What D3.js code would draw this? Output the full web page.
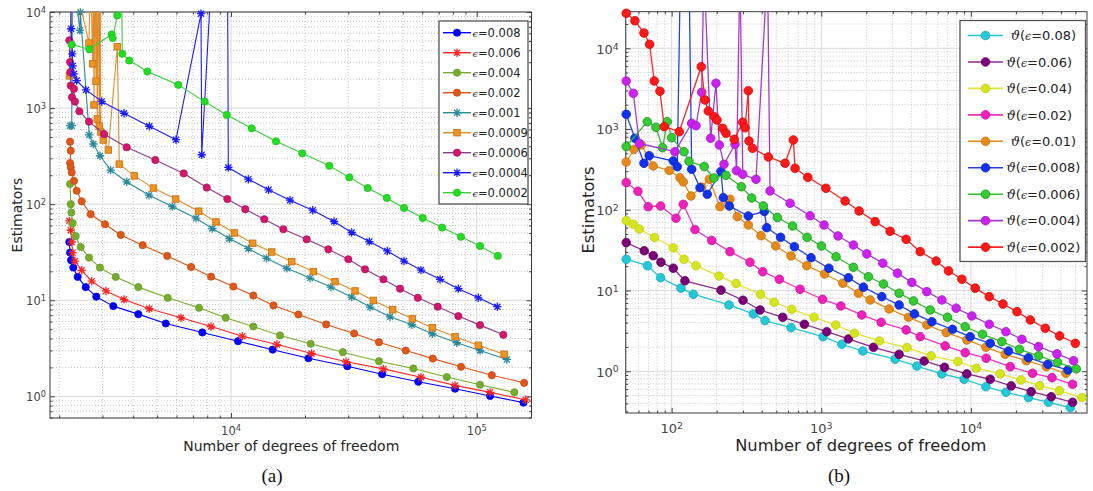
<!DOCTYPE html>
<html>
<head>
<meta charset="utf-8">
<script src="https://cdn.jsdelivr.net/npm/d3@7"></script>
<style>
  body { margin: 0; background: #fff; }
  text { font-family: "DejaVu Sans", sans-serif; }
</style>
</head>
<body>
<svg id="chart" width="1093" height="491"></svg>
<script>
// ---------------- panel (a): [degrees of freedom, estimator] ----------------
var a008 = [[2198,40.4],[2213,31.3],[2234,26.1],[2281,21.9],[2377,17.5],[2563,13.7],[2830,10.9],[3318,8.69],[4195,7.17],[5425,5.73],[7644,4.62],[10680,3.75],[14770,3.06],[20650,2.49],[29720,2.06],[41200,1.70],[57800,1.42],[81600,1.20],[113300,1.01],[154900,0.86]];
var a006 = [[2198,67.0],[2228,53.5],[2248,40.4],[2268,31.3],[2317,25.6],[2468,20.5],[2711,15.8],[3099,12.5],[3670,10.2],[4650,8.16],[6260,6.58],[8290,5.33],[11120,4.23],[15380,3.46],[21280,2.79],[29390,2.29],[41700,1.93],[59300,1.58],[81600,1.30],[113300,1.10],[158200,0.92]];
var a004 = [[2213,162],[2228,100],[2240,81.9],[2268,63.4],[2333,46.4],[2445,35.8],[2643,27.8],[2930,21.9],[3395,17.5],[4195,13.7],[5525,10.6],[7410,8.36],[9510,6.58],[12320,5.33],[15820,4.30],[21090,3.52],[28520,2.88],[40000,2.32],[55200,1.95],[75500,1.59],[103100,1.32],[142200,1.10]];
var a002 = [[2213,447],[2228,360],[2213,268],[2228,241],[2248,214],[2296,175],[2355,138],[2468,107],[2685,78.6],[3070,61.8],[3560,47.8],[4370,37.4],[5500,28.9],[6880,22.2],[8290,17.6],[10220,13.9],[12320,11.2],[14890,8.84],[18800,7.11],[24380,5.60],[31700,4.51],[40000,3.66],[51400,3.00],[66200,2.47],[86300,2.03],[115100,1.66],[155900,1.38]];
var a001 = [[2213,656],[2249,656],[2265,30000],[2428,6430],[2438,9900],[2649,525],[2754,423],[2930,319],[3238,226],[3762,171],[4637,124],[5768,94.6],[7206,71.4],[8392,55.8],[9845,43.9],[11760,34.5],[13950,27.3],[16860,21.5],[20970,17.0],[25470,13.7],[30980,10.8],[36800,8.49],[44370,6.73],[54400,5.56],[65950,4.48],[82900,3.61],[103100,3.00],[132500,2.42]];
var a0009 = [[2202,2165],[2245,30000],[2642,4750],[2680,30000],[2736,2888],[2757,30000],[2770,1078],[2796,30000],[2823,1905],[2842,30000],[2857,770],[2892,30000],[2911,651],[2936,30000],[2950,564],[3021,465],[3168,366],[3445,4345],[3510,261],[4040,197],[4830,147],[5955,113],[7390,84.5],[8690,65.3],[10330,50.2],[12250,39.2],[14640,31.8],[17660,25.2],[21630,19.9],[26500,15.6],[31970,12.5],[37950,9.96],[45500,7.96],[54700,6.42],[65950,5.17],[81600,4.17],[101500,3.40],[129200,2.74]];
var a0006 = [[2198,5080],[2213,3010],[2218,2366],[2228,1714],[2253,1297],[2296,1585],[2317,1168],[2414,927],[2642,722],[3043,537],[3762,391],[4920,288],[6420,209],[7965,149],[9660,113],[11430,88.7],[13660,69.7],[16330,54.8],[20320,43.1],[24890,33.9],[30010,26.7],[35090,21.0],[41700,16.5],[48740,13.2],[57530,10.6],[69360,8.57],[84150,6.84],[103100,5.51],[128300,4.37]];
var a0004 = [[2228,30000],[2234,6690],[2260,3673],[2268,2752],[2296,2271],[2355,1933],[2570,1546],[2977,1173],[3670,884],[4650,647],[5973,469],[7550,9600],[7600,327],[8370,30000],[9680,30000],[9750,241],[11760,182],[14210,141],[17380,110],[21500,86.5],[26250,66.0],[30980,50.7],[36550,40.8],[43260,32.6],[50580,25.6],[59300,20.6],[70900,16.5],[84150,13.2],[101500,10.6],[121300,8.57]];
var a0002 = [[2249,4590],[2649,4090],[3268,5837],[3300,5355],[3445,9220],[3584,30000],[3610,3673],[3855,3126],[4563,2400],[6102,1744],[7816,1168],[9605,848],[12140,616],[15240,451],[19500,338],[25120,251],[30300,190],[35990,147],[43030,116],[50580,91.4],[60260,71.9],[72260,57.1],[86300,45.8],[103100,36.7],[121800,28.9]];

var labelsA = ["0.008","0.006","0.004","0.002","0.001","0.0009","0.0006","0.0004","0.0002"];
var xTicksA = [1e4, 1e5];
var yTicksA = [1e0, 1e1, 1e2, 1e3, 1e4];

// ---------------- panel (b) ----------------
var b08 = [[49.7,24.4],[68.9,20.3],[84.4,14.4],[115.4,10.7],[139.5,8.99],[241.8,6.62],[351.4,5.13],[420.7,4.24],[628,3.47],[1028,2.68],[1371,2.16],[1895,1.78],[3117,1.41],[4355,1.16],[6397,0.927],[9020,0.796],[12600,0.644],[17140,0.549],[24270,0.471],[33040,0.413],[46150,0.354]];
var b06 = [[49.7,39.2],[65.6,31.1],[75.3,27.0],[84.8,22.4],[102.5,18.9],[122.7,13.2],[213.6,10.1],[299.8,7.57],[389.5,5.74],[552.6,4.66],[770.9,3.82],[1088,3.09],[1518,2.51],[2231,1.98],[3313,1.62],[4871,1.34],[6658,1.12],[9397,0.927],[13460,0.796],[18600,0.658],[25300,0.559],[34450,0.484],[47840,0.413]];
var b04 = [[49.7,73.3],[55.4,66.1],[60.7,57.8],[76.9,45.4],[102.5,33.9],[120.9,24.4],[145.4,20.3],[207.2,15.1],[269.3,12.2],[392.6,8.99],[483.4,7.15],[634.9,5.86],[895.2,4.66],[1250,3.74],[1665,2.96],[2447,2.37],[3733,1.96],[5427,1.55],[8185,1.32],[10850,1.09],[15700,0.927],[21600,0.780],[28770,0.664],[38990,0.575],[55260,0.471]];
var b02 = [[49.7,217.8],[59.5,169.4],[69.7,109.2],[84.4,111.4],[106.9,78.5],[119.6,116.9],[143.1,57.0],[185.2,41.7],[245.5,30.3],[334.0,22.4],[406.2,17.1],[524.5,13.8],[721.5,10.36],[1020,7.79],[1350,6.44],[1866,4.98],[2512,4.04],[3690,3.25],[4581,2.68],[6730,2.06],[9162,1.70],[12660,1.45],[18320,1.14],[25830,0.944],[34830,0.833],[47840,0.690]];
var b01 = [[49.7,390.8],[55.9,558],[62.8,635],[75.3,348.7],[96.4,306.7],[113.6,249.7],[119.6,220.9],[134.6,148.2],[158.7,191.6],[178.4,238.7],[210.4,109.2],[245.5,134.9],[274.7,82.1],[325.3,64.8],[395.6,47.8],[496.2,35.6],[628,26.8],[799.9,20.3],[1052,16.0],[1393,12.3],[1771,9.25],[2120,7.64],[2841,5.91],[3824,4.66],[5077,3.74],[6839,3.01],[9397,2.44],[12600,1.98],[16960,1.62],[23440,1.35],[31910,1.14],[43200,0.944]];
var b008 = [[49.7,1523],[56.8,768],[65.3,376.7],[70.8,467.7],[102.5,402],[109.0,341.9],[114.5,100000],[130.5,100000],[136.1,317.3],[154.6,187.8],[173.0,155.6],[213.6,298.1],[221.4,141.2],[242.9,111.4],[325.3,83.8],[416.1,95.3],[432.1,60.0],[534.4,45.6],[660.7,34.9],[854.3,25.5],[1124,18.9],[1518,14.4],[1912,11.0],[2539,8.39],[3313,6.62],[4197,5.13],[5485,4.11],[7535,3.31],[9893,2.68],[13460,2.22],[17840,1.78],[24270,1.47],[32730,1.22],[44570,1.04]];
var b006 = [[49.7,608],[68.7,1233],[78.5,1051],[87.0,587],[93.4,1233],[100,781],[120.9,524],[130.5,398.7],[165.0,343.7],[191.8,247.6],[230.8,267.4],[292.2,193.2],[342.8,140.0],[410.0,111.4],[508.6,80.3],[642.7,63.0],[803.5,45.6],[1002,35.6],[1256,26.2],[1639,19.4],[2065,14.8],[2602,12.05],[3313,9.25],[4130,7.43],[5345,5.74],[6973,4.66],[9162,3.56],[11960,2.87],[16110,2.33],[21140,1.87],[28330,1.55],[37950,1.29],[50620,1.07]];
var b004 = [[49.7,3936],[55.4,2772],[60.9,662],[105.2,524],[136.1,1178],[145.4,1100],[158.7,2851],[164.4,100000],[182.3,768],[197.8,3687],[208.2,634.6],[223.8,366],[265.1,647],[271.3,304.8],[286.3,100000],[298.5,275.2],[366.2,238.7],[437.2,100000],[454.4,171],[618.6,120.4],[841.5,84.5],[1044,64.8],[1295,47.4],[1639,36.6],[2016,28.4],[2578,21.8],[3228,16.4],[4031,12.6],[5077,9.68],[6397,7.64],[7972,6.03],[10150,4.84],[13260,3.82],[17140,3.09],[21930,2.49],[28330,2.02],[37600,1.64],[48550,1.35]];
var b002 = [[49.7,27120],[56.8,21960],[65.3,15470],[71.2,11210],[76.5,3936],[83.5,2941],[89.2,1069],[112.4,927],[157.7,5919],[167.1,2290],[175.7,1673],[192.7,1422],[201.0,1294],[219.4,1022],[230.8,886],[262.1,746],[298.5,1212],[309.2,1039],[325.3,2985],[328.9,711],[347.1,577.8],[442.8,450.8],[572.6,376.7],[650.7,731.8],[668.0,326.6],[812.2,252.6],[1073,184.6],[1443,128.5],[1790,96.6],[2291,71.3],[2885,54.2],[3690,43.1],[4581,30.3],[5861,23.2],[7083,17.5],[8707,13.8],[10690,10.7],[13260,8.39],[16370,6.81],[20320,5.47],[24950,4.32],[31410,3.41],[39150,2.74],[49890,2.22]];

var labelsB = [" 0.08","0.06","0.04","0.02"," 0.01","0.008","0.006","0.004","0.002"];
var xTicksB = [1e2, 1e3, 1e4];
var yTicksB = [1e0, 1e1, 1e2, 1e3, 1e4];

var svg = d3.select('#chart');

function minorVals(dom) {
  var out = [];
  var lo = Math.floor(Math.log10(dom[0])), hi = Math.ceil(Math.log10(dom[1]));
  for (var e = lo; e < hi; e++)
    for (var k = 2; k < 10; k++) {
      var v = k * Math.pow(10, e);
      if (v > dom[0] && v < dom[1]) out.push(v);
    }
  return out;
}

function powLabel(sel, v) {
  sel.append('tspan').text('10');
  sel.append('tspan').attr('dy', '-0.45em').attr('font-size', '0.72em').text(Math.round(Math.log10(v)));
}

function starPath(cx, cy, r) {
  var q = r * 0.72;
  return 'M' + (cx - r) + ',' + cy + 'H' + (cx + r) +
    'M' + cx + ',' + (cy - r) + 'V' + (cy + r) +
    'M' + (cx - q) + ',' + (cy - q) + 'L' + (cx + q) + ',' + (cy + q) +
    'M' + (cx - q) + ',' + (cy + q) + 'L' + (cx + q) + ',' + (cy - q);
}

function drawMarker(g, cx, cy, s, size) {
  if (s.shape == 'circle') {
    g.append('circle').attr('cx', cx).attr('cy', cy).attr('r', size)
      .attr('fill', s.fill).attr('stroke', s.edge || s.fill).attr('stroke-width', 0.8);
  } else if (s.shape == 'square') {
    g.append('rect').attr('x', cx - size * 0.9).attr('y', cy - size * 0.9)
      .attr('width', size * 1.8).attr('height', size * 1.8)
      .attr('fill', s.fill).attr('stroke', s.edge).attr('stroke-width', 0.9);
  } else {
    g.append('path').attr('d', starPath(cx, cy, size + 0.6))
      .attr('fill', 'none').attr('stroke', s.fill).attr('stroke-width', 1.3);
  }
}

function drawPanel(p) {
  var x = d3.scaleLog().domain(p.xDomain).range([p.left, p.right]);
  var y = d3.scaleLog().domain(p.yDomain).range([p.bottom, p.top]);
  var g = svg.append('g');

  g.append('clipPath').attr('id', p.id + 'clip')
    .append('rect').attr('x', p.left).attr('y', p.top)
    .attr('width', p.right - p.left).attr('height', p.bottom - p.top);

  // grid
  var xMinor = minorVals(p.xDomain), yMinor = minorVals(p.yDomain);
  g.selectAll('.xm').data(xMinor).enter().append('line')
    .attr('x1', d => x(d)).attr('x2', d => x(d)).attr('y1', p.top).attr('y2', p.bottom)
    .attr('stroke', '#b8b8b8').attr('stroke-width', 0.8).attr('stroke-dasharray', '1,2');
  g.selectAll('.ym').data(yMinor).enter().append('line')
    .attr('y1', d => y(d)).attr('y2', d => y(d)).attr('x1', p.left).attr('x2', p.right)
    .attr('stroke', '#b8b8b8').attr('stroke-width', 0.8).attr('stroke-dasharray', '1,2');
  g.selectAll('.xM').data(p.xTicks).enter().append('line')
    .attr('x1', d => x(d)).attr('x2', d => x(d)).attr('y1', p.top).attr('y2', p.bottom)
    .attr('stroke', '#dadada').attr('stroke-width', 1);
  g.selectAll('.yM').data(p.yTicks).enter().append('line')
    .attr('y1', d => y(d)).attr('y2', d => y(d)).attr('x1', p.left).attr('x2', p.right)
    .attr('stroke', '#dadada').attr('stroke-width', 1);

  // inward ticks on all four sides
  var axes = [
    [d3.axisBottom(x), 'translate(0,' + p.bottom + ')', xMinor, p.xTicks],
    [d3.axisTop(x), 'translate(0,' + p.top + ')', xMinor, p.xTicks],
    [d3.axisLeft(y), 'translate(' + p.left + ',0)', yMinor, p.yTicks],
    [d3.axisRight(y), 'translate(' + p.right + ',0)', yMinor, p.yTicks]
  ];
  axes.forEach(function (a) {
    var maj = a[0].tickValues(a[3]).tickSize(-5).tickSizeOuter(0).tickFormat('');
    g.append('g').attr('transform', a[1]).call(maj)
      .call(s => s.select('.domain').remove())
      .selectAll('line').attr('stroke', '#444');
    var mnr = a[0].tickValues(a[2]).tickSize(-2.5).tickSizeOuter(0).tickFormat('');
    g.append('g').attr('transform', a[1]).call(mnr)
      .call(s => s.select('.domain').remove())
      .selectAll('line').attr('stroke', '#444');
  });

  g.append('rect').attr('x', p.left).attr('y', p.top)
    .attr('width', p.right - p.left).attr('height', p.bottom - p.top)
    .attr('fill', 'none').attr('stroke', '#3a3a3a').attr('stroke-width', 1);

  // tick labels
  p.xTicks.forEach(function (v) {
    var t = g.append('text').attr('x', x(v)).attr('y', p.bottom + p.xLabY)
      .attr('text-anchor', 'middle').attr('font-size', p.tickFont).attr('fill', '#444');
    powLabel(t, v);
  });
  p.yTicks.forEach(function (v) {
    var t = g.append('text').attr('x', p.left - p.yLabX).attr('y', y(v) + p.tickFont * 0.42)
      .attr('text-anchor', 'end').attr('font-size', p.tickFont).attr('fill', '#444');
    powLabel(t, v);
  });

  // series
  var line = d3.line().x(d => x(d[0])).y(d => y(d[1]));
  p.series.forEach(function (s) {
    var sg = g.append('g');
    sg.append('path').datum(s.data).attr('d', line)
      .attr('fill', 'none').attr('stroke', s.line).attr('stroke-width', p.lw)
      .attr('stroke-linejoin', 'round')
      .attr('clip-path', 'url(#' + p.id + 'clip)');
    s.data.forEach(function (d) {
      if (d[0] < p.xDomain[0] || d[0] > p.xDomain[1] || d[1] < p.yDomain[0] || d[1] > p.yDomain[1]) return;
      drawMarker(sg, x(d[0]), y(d[1]), s, p.ms);
    });
  });

  // legend
  var L = p.legend;
  g.append('rect').attr('x', L.x0).attr('y', L.y0).attr('width', L.x1 - L.x0).attr('height', L.y1 - L.y0)
    .attr('fill', '#fff').attr('stroke', '#555').attr('stroke-width', 1.3);
  p.series.forEach(function (s, i) {
    var ly = L.first + i * L.step;
    g.append('line').attr('x1', L.lx0).attr('x2', L.lx1).attr('y1', ly).attr('y2', ly)
      .attr('stroke', s.line).attr('stroke-width', p.lw + 0.3);
    drawMarker(g, (L.lx0 + L.lx1) / 2, ly, s, p.ms);
    var t = g.append('text').attr('x', L.tx).attr('y', ly + L.font * 0.36)
      .attr('font-size', L.font).attr('fill', '#222').style('white-space', 'pre');
    if (p.theta) {
      t.append('tspan').style('font-family', '"DejaVu Serif", serif').style('font-style', 'italic')
        .text((s.label[0] == ' ' ? ' ' : '') + 'ϑ');
      t.append('tspan').text('(');
    }
    t.append('tspan').style('font-family', '"DejaVu Serif", serif').style('font-style', 'italic')
      .attr('font-size', '0.85em').text('ϵ');
    t.append('tspan').text('=' + s.label.trim() + (p.theta ? ')' : ''));
  });

  // axis titles
  g.append('text').attr('x', (p.left + p.right) / 2 + p.xTitleDx).attr('y', p.xTitleY)
    .attr('text-anchor', 'middle').attr('font-size', p.titleFont).attr('fill', '#262626')
    .text('Number of degrees of freedom');
  g.append('text').attr('transform', 'translate(' + p.yTitleX + ',' + p.yTitleY + ') rotate(-90)')
    .attr('text-anchor', 'middle').attr('font-size', p.titleFont).attr('fill', '#262626')
    .text('Estimators');
  g.append('text').attr('x', p.capX).attr('y', 482).attr('text-anchor', 'middle')
    .style('font-family', '"Liberation Serif", "DejaVu Serif", serif').attr('font-size', 19).attr('fill', '#111')
    .text(p.caption);
}

function ser(data, label, line, fill, edge, shape) {
  return { data: data, label: label, line: line, fill: fill, edge: edge, shape: shape };
}

drawPanel({
  id: 'pa', left: 50, right: 531.5, top: 12, bottom: 418,
  xDomain: [1834, 167000], yDomain: [0.595, 10000],
  xTicks: xTicksA, yTicks: yTicksA,
  tickFont: 11.5, xLabY: 17, yLabX: 4,
  lw: 1.1, ms: 3.6,
  titleFont: 14, xTitleDx: 0.5, xTitleY: 451, yTitleX: 22, yTitleY: 215,
  capX: 272, caption: '(a)',
  series: [
    ser(a008, labelsA[0], '#0000ff', '#0000ff', '#0000ee', 'circle'),
    ser(a006, labelsA[1], '#ff2424', '#ff2424', null, 'star'),
    ser(a004, labelsA[2], '#77ac30', '#77ac30', '#679c28', 'circle'),
    ser(a002, labelsA[3], '#d95319', '#dd581a', '#c84a12', 'circle'),
    ser(a001, labelsA[4], '#2a8a9a', '#2a8a9a', null, 'star'),
    ser(a0009, labelsA[5], '#e08c2c', '#ee9420', '#c8731a', 'square'),
    ser(a0006, labelsA[6], '#8c3c8c', '#d4176a', '#b0105a', 'circle'),
    ser(a0004, labelsA[7], '#1a1aff', '#1a1aff', null, 'star'),
    ser(a0002, labelsA[8], '#3dcc3d', '#22dd22', '#22bb22', 'circle')
  ],
  legend: { x0: 439, y0: 21, x1: 528, y1: 204, first: 32.7, step: 20, lx0: 443, lx1: 471, tx: 472.5, font: 11.5 }
});

drawPanel({
  id: 'pb', left: 625.7, right: 1087, top: 11.7, bottom: 413,
  xDomain: [49.3, 59700], yDomain: [0.304, 28400],
  xTicks: xTicksB, yTicks: yTicksB,
  tickFont: 13, xLabY: 20, yLabX: 7,
  lw: 1.3, ms: 4.3, theta: true,
  titleFont: 16.3, xTitleDx: 4.5, xTitleY: 451, yTitleX: 594, yTitleY: 210,
  capX: 839, caption: '(b)',
  series: [
    ser(b08, labelsB[0], '#27c4d4', '#22c8d8', '#18a8b8', 'circle'),
    ser(b06, labelsB[1], '#8a2a8a', '#7a007a', '#600060', 'circle'),
    ser(b04, labelsB[2], '#e2e23a', '#d6e61c', '#bfcc10', 'circle'),
    ser(b02, labelsB[3], '#ee33bb', '#ee22bb', '#cc1199', 'circle'),
    ser(b01, labelsB[4], '#e28a22', '#e58a18', '#c87410', 'circle'),
    ser(b008, labelsB[5], '#2244dd', '#1133ee', '#0a22bb', 'circle'),
    ser(b006, labelsB[6], '#33bb33', '#33cc33', '#1a8f1a', 'circle'),
    ser(b004, labelsB[7], '#a03cc8', '#cc22ee', '#aa14cc', 'circle'),
    ser(b002, labelsB[8], '#ff2222', '#ff1a1a', '#dd0000', 'circle')
  ],
  legend: { x0: 960, y0: 20.5, x1: 1085.5, y1: 261.5, first: 35.5, step: 26.45, lx0: 968, lx1: 1003, tx: 1006.5, font: 13 }
});
</script>
</body>
</html>
